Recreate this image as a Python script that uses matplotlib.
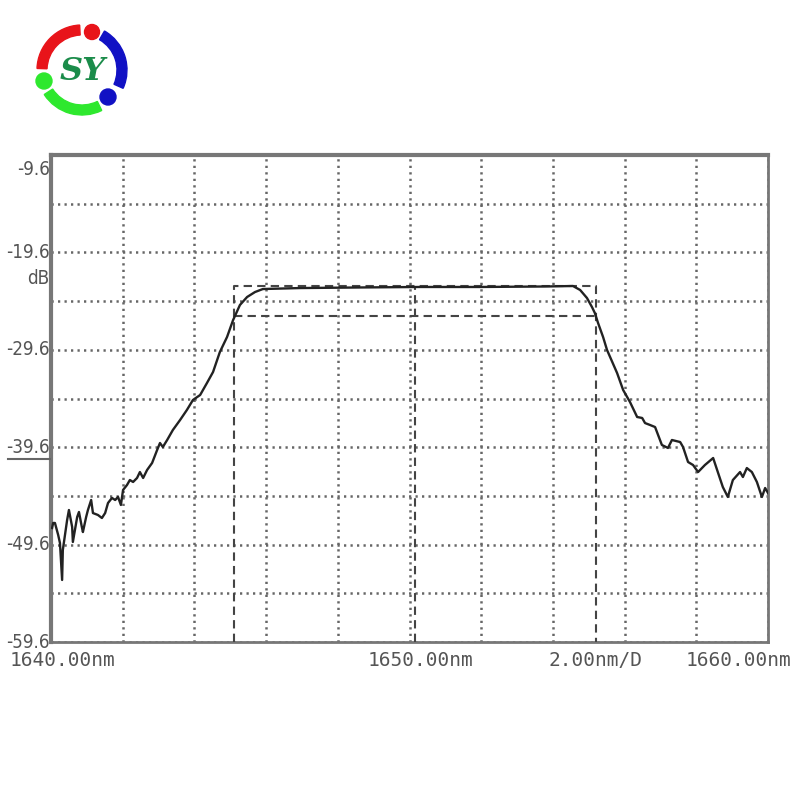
import matplotlib
matplotlib.use('Agg')
import matplotlib.pyplot as plt
from matplotlib.patches import Wedge, Circle
from matplotlib.lines import Line2D
import numpy as np

# ---------------- data ----------------
wl = [1640.03, 1640.06, 1640.11, 1640.20, 1640.25, 1640.31, 1640.33, 1640.45, 1640.50, 1640.59,
      1640.61, 1640.73, 1640.78, 1640.86, 1640.89, 1640.98, 1641.03, 1641.12, 1641.17, 1641.31,
      1641.42, 1641.51, 1641.59, 1641.70, 1641.79, 1641.87, 1641.95, 1642.01, 1642.12, 1642.20,
      1642.29, 1642.40, 1642.48, 1642.57, 1642.68, 1642.82, 1642.96, 1643.04, 1643.12, 1643.24,
      1643.40, 1643.60, 1643.79, 1643.96, 1644.16, 1644.35, 1644.52, 1644.71, 1644.91, 1645.08,
      1645.27, 1645.47, 1645.69, 1645.91, 1646.95, 1648.62, 1650.29, 1651.97, 1653.78, 1654.56,
      1654.76, 1654.95, 1655.09, 1655.17, 1655.26, 1655.40, 1655.51, 1655.79, 1655.96, 1656.15,
      1656.35, 1656.49, 1656.57, 1656.71, 1656.85, 1657.04, 1657.21, 1657.32, 1657.55, 1657.63,
      1657.77, 1657.91, 1658.05, 1658.24, 1658.47, 1658.60, 1658.74, 1658.88, 1659.02, 1659.22,
      1659.30, 1659.41, 1659.55, 1659.69, 1659.83, 1659.92, 1660.00]
power = [-47.90, -47.38, -47.38, -48.61, -49.44, -53.23, -50.15, -47.07, -46.05, -47.79,
         -49.33, -46.77, -46.25, -47.79, -48.31, -46.77, -46.05, -45.02, -46.36, -46.56,
         -46.87, -46.36, -45.33, -44.81, -45.02, -44.71, -45.53, -43.99, -43.48, -42.97,
         -43.17, -42.76, -42.15, -42.76, -41.94, -41.22, -39.89, -39.17, -39.58, -38.86,
         -37.83, -36.81, -35.78, -34.75, -34.24, -33.01, -31.88, -29.83, -28.29, -26.54,
         -25.00, -24.18, -23.67, -23.36, -23.26, -23.20, -23.15, -23.15, -23.10, -23.05,
         -23.46, -24.28, -25.21, -25.82, -26.85, -28.29, -29.62, -31.98, -33.73, -34.96,
         -36.50, -36.60, -37.12, -37.32, -37.53, -39.37, -39.68, -38.86, -39.07, -39.58,
         -41.12, -41.43, -42.15, -41.43, -40.71, -42.15, -43.69, -44.71, -42.97, -42.15,
         -42.66, -41.74, -42.15, -43.17, -44.71, -43.79, -44.30]

# markers of the analysis (band edges, peak level, -3 dB level, centre)
left_edge = 1645.10
right_edge = 1655.20
centre = 1650.15
peak_level = -23.05
db3_level = -26.13

x_min, x_max = 1640.0, 1660.0
y_min, y_max = -59.6, -9.6
y_labels = [-9.6, -19.6, -29.6, -39.6, -49.6, -59.6]

# ---------------- figure ----------------
fig = plt.figure(figsize=(8, 8), dpi=100)
ax = fig.add_axes([51/800, 1-642/800, 717/800, 487/800])

ax.plot(wl, power, color='#222222', lw=1.7, zorder=4)

dash = dict(color='#444444', lw=1.5, ls=(0, (4, 2.5)), zorder=3)
ax.plot([left_edge, left_edge, right_edge, right_edge],
        [y_min, peak_level, peak_level, y_min], **dash)
ax.plot([left_edge, right_edge], [db3_level, db3_level], **dash)
ax.plot([centre, centre], [y_min, peak_level], **dash)

ax.set_xlim(x_min, x_max)
ax.set_ylim(y_min, y_max)
ax.set_xticks(np.arange(x_min, x_max + 0.1, 2.0))
ax.set_yticks(np.arange(y_min, y_max + 0.1, 5.0))
ax.grid(True, color='#666666', lw=1.8, ls=(0, (0.9, 1.7)))
ax.tick_params(length=0, labelbottom=False, labelleft=False)

for side, w in [('left', 3), ('top', 3), ('right', 2), ('bottom', 2)]:
    ax.spines[side].set_color('#777777')
    ax.spines[side].set_linewidth(w)

lab_font = ['Liberation Sans Narrow', 'DejaVu Sans']
for v in y_labels:
    va = 'center'
    off = 0
    if v == y_max:
        va = 'top'
        off = -0.5
    ax.text(-0.002, v + off, '%.1f' % v, transform=ax.get_yaxis_transform(),
            ha='right', va=va, fontsize=13.5, color='#555555', family=lab_font,
            fontstretch='condensed')
ax.text(-0.002, -22.3, 'dB', transform=ax.get_yaxis_transform(),
        ha='right', va='center', fontsize=13.5, color='#555555', family=lab_font,
        fontstretch='condensed')
# underline under the reference level label
fig.add_artist(Line2D([8/800, 50/800], [1-459/800, 1-459/800], color='#666666', lw=1.5))

mono = ['DejaVu Sans Mono']
for txt, px in [('1640.00nm', 62), ('1650.00nm', 420), ('2.00nm/D', 595), ('1660.00nm', 739)]:
    fig.text(px/800, 1-661/800, txt, ha='center', va='center', fontsize=14,
             color='#555555', family=mono)

# ---------------- logo ----------------
lg = fig.add_axes([0, 0, 1, 1], zorder=-1)
lg.set_xlim(0, 800)
lg.set_ylim(0, 800)
lg.axis('off')
cx, cy = 82, 730
lg.add_patch(Wedge((cx, cy), 45, 93, 178, width=10, color='#e8141a'))
lg.add_patch(Wedge((cx, cy), 45, -24, 60, width=10, color='#1111c4'))
lg.add_patch(Wedge((cx, cy), 45, -147, -64, width=10, color='#2ee82e'))
lg.add_patch(Circle((92, 768), 7.5, color='#e8141a'))
lg.add_patch(Circle((108, 703), 8, color='#1111c4'))
lg.add_patch(Circle((44, 719), 8, color='#2ee82e'))
lg.text(cx + 1, cy - 2, 'SY', ha='center', va='center', fontsize=23, color='#1b8c4a',
        family='DejaVu Serif', weight='bold', style='italic')

fig.savefig('out.png', dpi=100, facecolor='white')
